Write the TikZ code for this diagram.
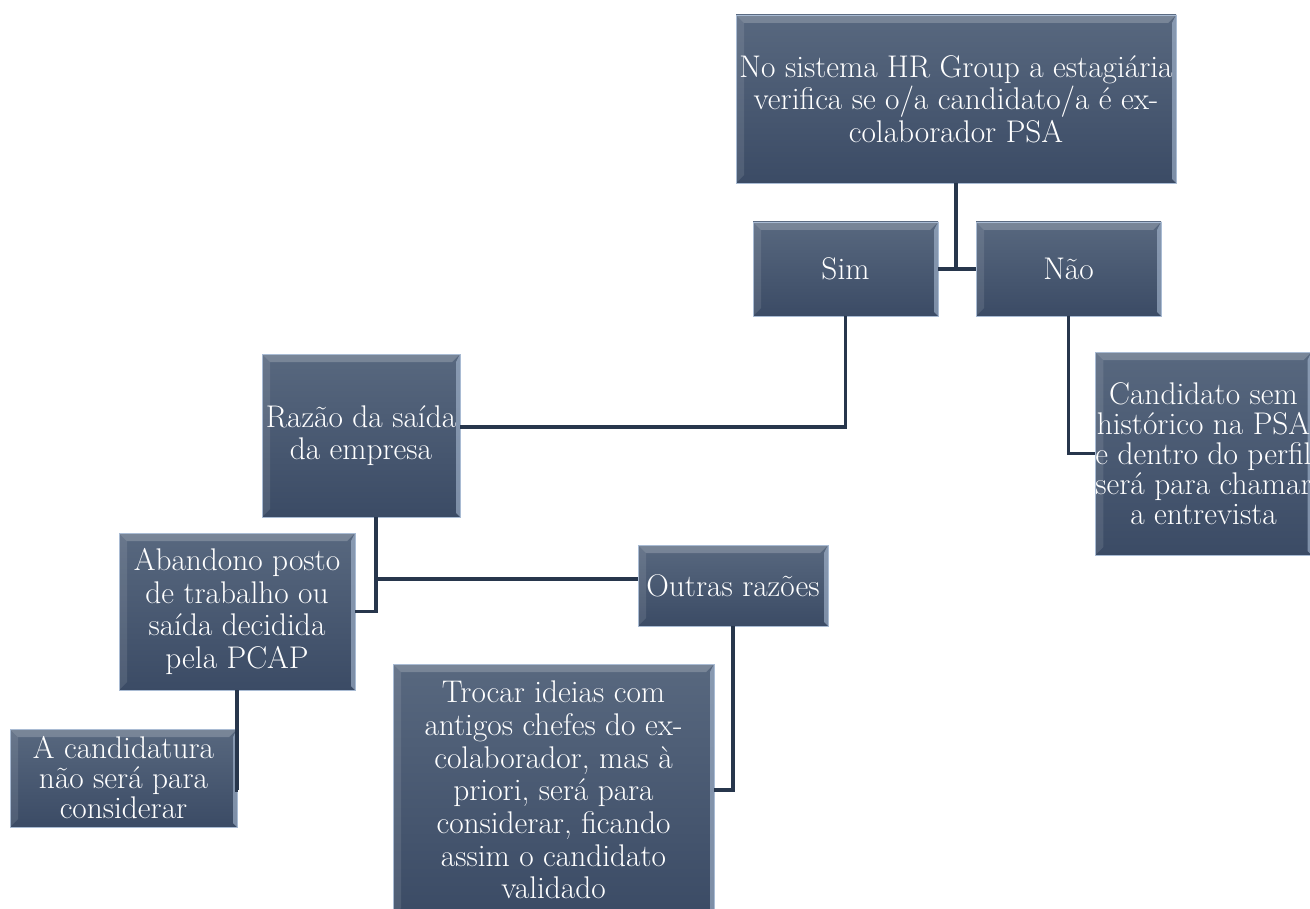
\documentclass[tikz,border=0pt]{standalone}
\usepackage{fontspec}
\definecolor{boxtop}{HTML}{58687F}
\definecolor{boxbot}{HTML}{3B4B65}
\definecolor{boxedge}{HTML}{A9BBD3}
\definecolor{linkcol}{HTML}{27364C}

\begin{document}
\begin{tikzpicture}[x=0.75pt,y=-0.75pt,
  box/.style={draw=boxedge,line width=0.6pt,top color=boxtop,bottom color=boxbot,
    text=white,align=center,inner sep=0pt,font=\fontsize{23.5}{24.5}\selectfont,
    path picture={
      \fill[white,opacity=0.2] (path picture bounding box.north west) -- (path picture bounding box.north east)
        -- ([shift={(-6pt,-6pt)}]path picture bounding box.north east) -- ([shift={(6pt,-6pt)}]path picture bounding box.north west) -- cycle;
      \fill[white,opacity=0.1] (path picture bounding box.north west) -- ([shift={(6pt,-6pt)}]path picture bounding box.north west)
        -- ([shift={(6pt,6pt)}]path picture bounding box.south west) -- (path picture bounding box.south west) -- cycle;
      \fill[boxedge,opacity=0.6] (path picture bounding box.north east) -- ([shift={(-3pt,-6pt)}]path picture bounding box.north east)
        -- ([shift={(-3pt,3pt)}]path picture bounding box.south east) -- (path picture bounding box.south east) -- cycle;
    }},
  tight/.style={font=\fontsize{23.5}{22.5}\selectfont},
  link/.style={linkcol,line width=2.6pt}]
\clip (0,0) rectangle (1310,909);

% Boxes
\node[box,minimum width=330pt,minimum height=126pt] (verifica) at (956,99)
  {No sistema HR Group a estagiária\\verifica se o/a candidato/a é ex-\\colaborador PSA};
\node[box,minimum width=138.75pt,minimum height=70.5pt] (sim) at (845.5,269) {Sim};
\node[box,minimum width=138.75pt,minimum height=70.5pt] (nao) at (1068.5,269) {Não};
\node[box,minimum width=148.5pt,minimum height=122.25pt] (razao) at (361,435.5) {Razão da saída\\da empresa};
\node[box,tight,minimum width=159.75pt,minimum height=152.25pt] (semhist) at (1203.5,453.5)
  {Candidato sem\\histórico na PSA\\e dentro do perfil\\será para chamar\\a entrevista};
\node[box,minimum width=177pt,minimum height=117.75pt] (abandono) at (237,611.5)
  {Abandono posto\\de trabalho ou\\saída decidida\\pela PCAP};
\node[box,minimum width=142.5pt,minimum height=60.75pt] (outras) at (733,585.5) {Outras razões};
\node[box,minimum width=240.75pt,minimum height=189pt] (trocar) at (553.5,790)
  {Trocar ideias com\\antigos chefes do ex-\\colaborador, mas à\\priori, será para\\considerar, ficando\\assim o candidato\\validado};
\node[box,tight,minimum width=170.25pt,minimum height=73.5pt] (naocons) at (123.5,778)
  {A candidatura\\não será para\\considerar};

% Connectors
\draw[link] (verifica.south) -- (verifica.south |- sim.east);
\draw[link] (sim.east) -- (nao.west);
\draw[link] (sim.south) |- ([yshift=6.4pt]razao.east);
\draw[link] (nao.south) |- (semhist.west);
\draw[link] ([xshift=11.25pt]razao.south) |- (abandono.east);
\draw[link] ([xshift=11.25pt]razao.south) |- ([yshift=4.9pt]outras.west);
\draw[link] (outras.south) |- (trocar.east);
\draw[link] (abandono.south) |- ([yshift=-9pt]naocons.east);
\end{tikzpicture}
\end{document}
